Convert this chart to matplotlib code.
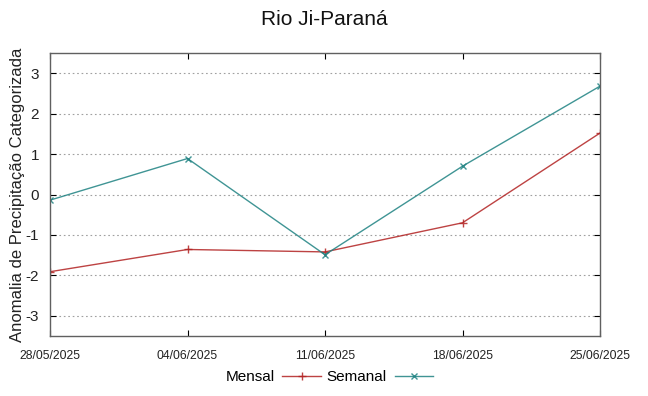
import matplotlib
matplotlib.use("Agg")
import matplotlib.pyplot as plt

plt.rcParams['font.family'] = ['Liberation Sans', 'DejaVu Sans']

datas = ["28/05/2025", "04/06/2025", "11/06/2025", "18/06/2025", "25/06/2025"]
mensal = [-1.91, -1.36, -1.42, -0.70, 1.52]
semanal = [-0.14, 0.89, -1.49, 0.70, 2.68]
yticks = [-3, -2, -1, 0, 1, 2, 3]

fig = plt.figure(figsize=(6.48, 3.96), dpi=100)
ax = fig.add_axes([50/648, 1 - 336/396, 550/648, 283/396])

x = list(range(len(datas)))
ax.plot(x, mensal, color='#b22222', linewidth=1, marker='+', markersize=6,
        markeredgewidth=1, label="Mensal", alpha=0.85)
ax.plot(x, semanal, color='#1e8282', linewidth=1, marker='x', markersize=4.5,
        markeredgewidth=1, label="Semanal", alpha=0.85)

ax.set_xlim(0, len(datas) - 1)
ax.set_ylim(-3.5, 3.5)
ax.set_xticks(x)
ax.set_xticklabels(datas, fontsize=8.7)
ax.set_yticks(yticks)
ax.set_yticklabels([str(v) for v in yticks], fontsize=11)
ax.tick_params(direction='in', length=4, top=True, right=True, color='black',
               labelcolor='#222222')
ax.tick_params(axis='x', pad=10)
ax.tick_params(axis='y', pad=8)
ax.grid(axis='y', linestyle=(0, (1.5, 2.5)), color='#a0a0a0', linewidth=0.8)
for s in ax.spines.values():
    s.set_color('#606060')
    s.set_linewidth(1)

ax.set_ylabel("Anomalia de Precipitação Categorizada", fontsize=12, color='#222222',
              labelpad=0.5)
fig.suptitle("Rio Ji-Paraná", fontsize=15, y=0.975, color='#111111')

fig.legend(loc='lower center', ncol=2, frameon=False, markerfirst=False,
           fontsize=11, bbox_to_anchor=(0.508, -0.005), handlelength=2.5,
           columnspacing=0.4, handletextpad=0.5)

fig.savefig("out.png", dpi=100)
